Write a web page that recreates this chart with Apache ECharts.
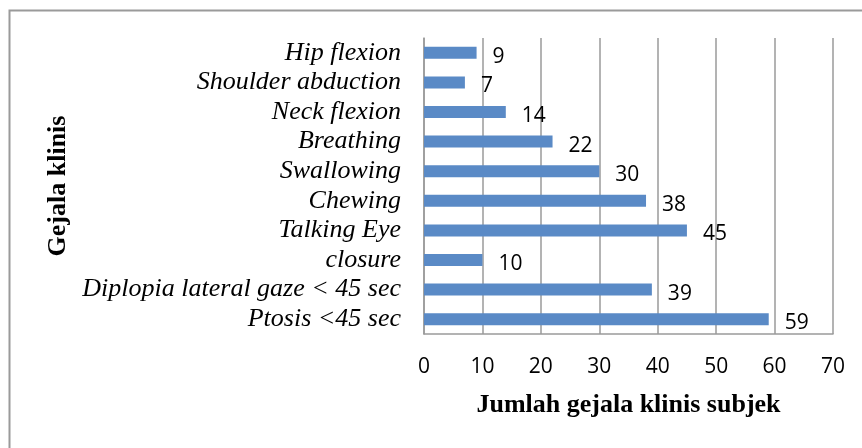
<!DOCTYPE html>
<html>
<head>
<meta charset="utf-8">
<script src="https://cdn.jsdelivr.net/npm/echarts@6/dist/echarts.min.js"></script>
<style>html,body{margin:0;padding:0;background:#fff;}#c{width:862px;height:448px;}</style>
</head>
<body>
<div id="c"></div>
<script>
const categories = ['Hip flexion','Shoulder abduction','Neck flexion','Breathing','Swallowing','Chewing','Talking Eye','closure','Diplopia lateral gaze < 45 sec','Ptosis <45 sec'];
const values = [9, 7, 14, 22, 30, 38, 45, 10, 39, 59];
const xTicks = [0, 10, 20, 30, 40, 50, 60, 70];

const chart = echarts.init(document.getElementById('c'), null, {renderer: 'canvas'});
chart.setOption({
  animation: false,
  backgroundColor: '#fff',
  graphic: [{
    type: 'rect', left: 7, top: 8, z: -1,
    shape: {width: 880, height: 460},
    style: {fill: 'none', stroke: '#9a9a9a', lineWidth: 2}
  }],
  grid: {left: 424, right: 29, top: 38, bottom: 114},
  xAxis: {
    type: 'value', min: xTicks[0], max: xTicks[xTicks.length - 1], interval: 10,
    name: 'Jumlah gejala klinis subjek', nameLocation: 'middle', nameGap: 58,
    nameTextStyle: {fontFamily: 'Liberation Serif', fontWeight: 'bold', fontSize: 26, color: '#000'},
    axisLine: {show: true, lineStyle: {color: '#9a9a9a', width: 1.5}},
    axisTick: {show: false},
    axisLabel: {fontFamily: 'Open Sans', fontSize: 21, color: '#000', margin: 23},
    splitLine: {show: true, lineStyle: {color: '#9a9a9a', width: 1.5}}
  },
  yAxis: {
    type: 'category', data: categories, inverse: true,
    name: 'Gejala klinis', nameLocation: 'middle', nameGap: 353, nameRotate: 90,
    nameTextStyle: {fontFamily: 'Liberation Serif', fontWeight: 'bold', fontSize: 26, color: '#000'},
    axisLine: {show: true, lineStyle: {color: '#9a9a9a', width: 1.5}},
    axisTick: {show: false},
    axisLabel: {interval: 0, fontFamily: 'Liberation Serif', fontStyle: 'italic', fontSize: 26, lineHeight: 26, color: '#000', margin: 23},
    splitLine: {show: false}
  },
  series: [{
    type: 'bar', data: values, barWidth: 12,
    itemStyle: {color: '#5a8ac6'},
    label: {show: true, position: 'right', distance: 16, offset: [0, 4],
      fontFamily: 'Open Sans', fontSize: 21, color: '#000'}
  }]
});
</script>
</body>
</html>
